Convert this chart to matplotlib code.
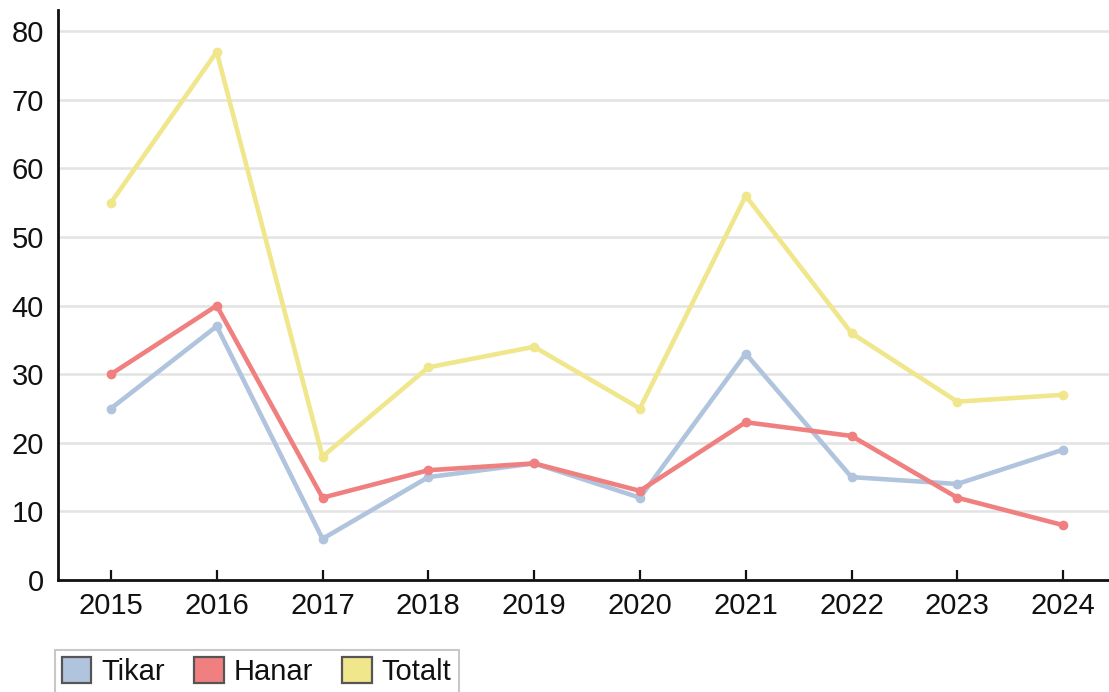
import matplotlib
matplotlib.use("Agg")
import matplotlib.pyplot as plt
from matplotlib.patches import Patch

years = [2015, 2016, 2017, 2018, 2019, 2020, 2021, 2022, 2023, 2024]
tikar = [25, 37, 6, 15, 17, 12, 33, 15, 14, 19]
hanar = [30, 40, 12, 16, 17, 13, 23, 21, 12, 8]
totalt = [55, 77, 18, 31, 34, 25, 56, 36, 26, 27]
series_names = ["Tikar", "Hanar", "Totalt"]
colors = ["#B0C4DE", "#F08080", "#F0E68C"]

plt.rcParams['font.family'] = ['Liberation Sans', 'DejaVu Sans']

W, H = 1109, 692
fig = plt.figure(figsize=(W / 100, H / 100), dpi=100)
ax = fig.add_axes([58 / W, 1 - 580 / H, (1116 - 58) / W, (580 - 10) / H])

for vals, c in zip([tikar, hanar, totalt], colors):
    ax.plot(years, vals, color=c, lw=3.3, marker='o', ms=6, mec=c, mfc=c, zorder=3)

ax.set_xlim(2014.5, 2024.5)
ax.set_ylim(0, 83.1)
ax.set_yticks(range(0, 81, 10))
ax.set_xticks(years)
ax.set_xticklabels([str(y) for y in years])
ax.grid(axis='y', color='#E3E3E3', lw=1.8, zorder=0)
ax.set_axisbelow(True)
for s in ['top', 'right']:
    ax.spines[s].set_visible(False)
for s in ['left', 'bottom']:
    ax.spines[s].set_linewidth(2.0)
    ax.spines[s].set_color('#111111')
ax.tick_params(axis='x', direction='in', length=7, width=1.6, labelsize=21, pad=9,
               colors='#111111')
ax.tick_params(axis='y', length=0, labelsize=21, pad=10, colors='#111111')

handles = [Patch(facecolor=c, edgecolor='#555555', lw=1.6) for c in colors]
leg = fig.legend(handles, series_names, loc='upper left',
                 bbox_to_anchor=(55 / W, 1 - 650 / H), ncol=3, fontsize=21,
                 handlelength=1.0, handleheight=1.0, handletextpad=0.35,
                 columnspacing=1.0, borderpad=0.25, fancybox=False,
                 frameon=True, borderaxespad=0)
leg.get_frame().set_edgecolor('#BBBBBB')
leg.get_frame().set_linewidth(1.5)
for t in leg.get_texts():
    t.set_color('#111111')

fig.savefig("out.png", dpi=100)
